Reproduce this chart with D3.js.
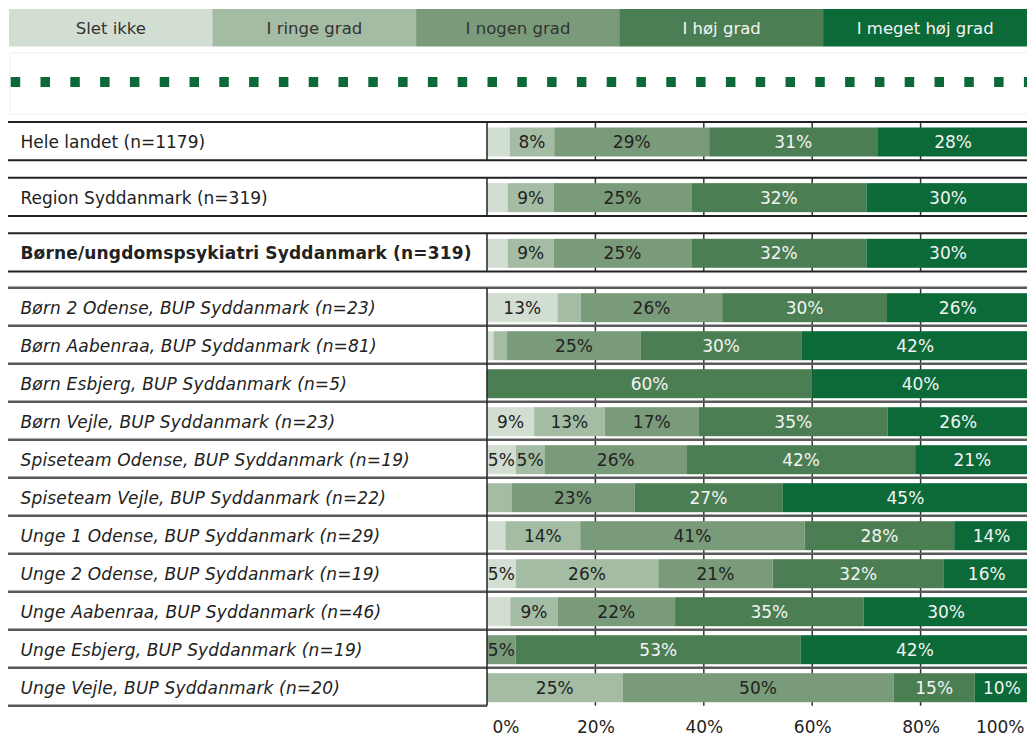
<!DOCTYPE html>
<html>
<head>
<meta charset="utf-8">
<script src="https://cdn.jsdelivr.net/npm/d3@7"></script>
<style>
  body { margin: 0; background: #fff; }
  text { font-family: "DejaVu Sans", Verdana, sans-serif; }
</style>
</head>
<body>
<div id="chart"></div>
<script>
// Answer categories (legend order)
var categories = ["Slet ikke", "I ringe grad", "I nogen grad", "I høj grad", "I meget høj grad"];

// Row labels
var rowLabels = [
  "Hele landet (n=1179)",
  "Region Syddanmark (n=319)",
  "Børne/ungdomspsykiatri Syddanmark (n=319)",
  "Børn 2 Odense, BUP Syddanmark (n=23)",
  "Børn Aabenraa, BUP Syddanmark (n=81)",
  "Børn Esbjerg, BUP Syddanmark (n=5)",
  "Børn Vejle, BUP Syddanmark (n=23)",
  "Spiseteam Odense, BUP Syddanmark (n=19)",
  "Spiseteam Vejle, BUP Syddanmark (n=22)",
  "Unge 1 Odense, BUP Syddanmark (n=29)",
  "Unge 2 Odense, BUP Syddanmark (n=19)",
  "Unge Aabenraa, BUP Syddanmark (n=46)",
  "Unge Esbjerg, BUP Syddanmark (n=19)",
  "Unge Vejle, BUP Syddanmark (n=20)"
];

// Percentages per category, one value per row
var sletIkke      = [4.2, 3.8, 3.8, 13.0, 1.2, 0, 8.7, 5.3, 0, 3.4, 5.3, 4.3, 0, 0];
var ringeGrad     = [8.2, 8.5, 8.5, 4.3, 2.5, 0, 13.0, 5.3, 4.5, 13.8, 26.3, 8.7, 0, 25];
var nogenGrad     = [28.6, 25.4, 25.4, 26.1, 24.7, 0, 17.4, 26.3, 22.7, 41.4, 21.1, 21.7, 5.3, 50];
var hoejGrad      = [31.0, 32.3, 32.3, 30.4, 29.6, 60, 34.8, 42.1, 27.3, 27.6, 31.6, 34.8, 52.6, 15];
var megetHoejGrad = [28.0, 30.1, 30.1, 26.1, 42.0, 40, 26.1, 21.1, 45.4, 13.8, 15.8, 30.4, 42.1, 10];

// Axis ticks
var tickValues = [0, 20, 40, 60, 80, 100];

var series = [sletIkke, ringeGrad, nogenGrad, hoejGrad, megetHoejGrad];
var colors = ["#d3ded3", "#a3bca3", "#7a9b7a", "#4b7f53", "#0b6a38"];
var textColors = ["#222", "#222", "#222", "#f4f4f4", "#f4f4f4"];

var svgWidth = 1027;
var svgHeight = 736;
var labelLeft = 8;
var barLeft = 487;

var svg = d3.select("#chart")
  .append("svg")
  .attr("width", svgWidth)
  .attr("height", svgHeight);

// Build table for stacking
var table = rowLabels.map(function (label, i) {
  var row = { label: label, index: i };
  categories.forEach(function (c, j) { row[c] = series[j][i]; });
  return row;
});

var stack = d3.stack().keys(categories);
var stacked = stack(table);

// Scales
var x = d3.scaleLinear().domain([0, 100]).range([barLeft, 1029]);
var ySummary = d3.scaleLinear().domain([0, 2]).range([122, 233.3]);
var yUnits = d3.scaleLinear().domain([3, 14]).range([287.7, 705.7]);

function rowTop(i) { return i < 3 ? ySummary(i) : yUnits(i); }
function rowBottom(i) { return i < 3 ? ySummary(i) + 38.3 : yUnits(i + 1); }

// Legend
var legendX = d3.scaleBand().domain(categories).range([9, svgWidth]);
var legend = svg.append("g");
legend.selectAll("rect")
  .data(categories)
  .enter()
  .append("rect")
  .attr("x", d => legendX(d))
  .attr("y", 9)
  .attr("width", legendX.bandwidth() + 0.5)
  .attr("height", 37.5)
  .attr("fill", (d, i) => colors[i]);
legend.selectAll("text")
  .data(categories)
  .enter()
  .append("text")
  .attr("x", d => legendX(d) + legendX.bandwidth() / 2)
  .attr("y", 28)
  .attr("dy", "0.35em")
  .attr("text-anchor", "middle")
  .style("font-size", "16.5px")
  .attr("fill", (d, i) => textColors[i] === "#222" ? "#333" : "#f4f4f4")
  .text(d => d);

// Dotted separator box
svg.append("rect")
  .attr("x", 10)
  .attr("y", 53)
  .attr("width", 1040)
  .attr("height", 61)
  .attr("fill", "none")
  .attr("stroke", "#eeeeee");
svg.append("line")
  .attr("x1", 10.7)
  .attr("x2", svgWidth)
  .attr("y1", 82)
  .attr("y2", 82)
  .attr("stroke", "#0b6a38")
  .attr("stroke-width", 10)
  .attr("stroke-dasharray", "9.5 20.3");

// Gridlines (behind bars)
var grid = svg.append("g");
rowLabels.forEach(function (label, i) {
  grid.selectAll(null)
    .data([20, 40, 60, 80])
    .enter()
    .append("line")
    .attr("x1", d => x(d))
    .attr("x2", d => x(d))
    .attr("y1", rowTop(i))
    .attr("y2", rowBottom(i))
    .attr("stroke", "#333")
    .attr("stroke-width", 1.5);
});

// Row lines
var lines = svg.append("g");
[0, 1, 2].forEach(function (i) {
  [rowTop(i), rowBottom(i)].forEach(function (yy) {
    lines.append("line")
      .attr("x1", labelLeft).attr("x2", svgWidth)
      .attr("y1", yy).attr("y2", yy)
      .attr("stroke", "#222").attr("stroke-width", 2);
  });
});
d3.range(3, 14).forEach(function (i) {
  lines.append("line")
    .attr("x1", labelLeft).attr("x2", svgWidth)
    .attr("y1", rowTop(i)).attr("y2", rowTop(i))
    .attr("stroke", "#5a5a5a").attr("stroke-width", 2.5);
});
lines.append("line")
  .attr("x1", labelLeft).attr("x2", barLeft)
  .attr("y1", rowBottom(13)).attr("y2", rowBottom(13))
  .attr("stroke", "#5a5a5a").attr("stroke-width", 2.5);

// Bars
var layers = svg.selectAll("g.layer")
  .data(stacked)
  .enter()
  .append("g")
  .attr("class", "layer")
  .attr("fill", (d, i) => colors[i]);

layers.selectAll("rect")
  .data(d => d)
  .enter()
  .append("rect")
  .attr("x", d => x(d[0]))
  .attr("y", d => rowTop(d.data.index) + 5.5)
  .attr("width", d => Math.max(0, x(d[1]) - x(d[0])))
  .attr("height", 29);

// Bar value labels
stacked.forEach(function (layer, j) {
  svg.append("g")
    .selectAll("text")
    .data(layer.filter(d => d[1] - d[0] >= 5))
    .enter()
    .append("text")
    .attr("x", d => x((d[0] + d[1]) / 2))
    .attr("y", d => rowTop(d.data.index) + 20)
    .attr("dy", "0.35em")
    .attr("text-anchor", "middle")
    .attr("fill", textColors[j])
    .style("font-size", "17px")
    .text(d => Math.round(d[1] - d[0]) + "%");
});

// Left border of bar area
rowLabels.forEach(function (label, i) {
  svg.append("line")
    .attr("x1", barLeft).attr("x2", barLeft)
    .attr("y1", rowTop(i)).attr("y2", rowBottom(i))
    .attr("stroke", "#222").attr("stroke-width", 1.5);
});

// Row labels
svg.append("g")
  .selectAll("text")
  .data(rowLabels)
  .enter()
  .append("text")
  .attr("x", 20.5)
  .attr("y", (d, i) => rowTop(i) + 20)
  .attr("dy", "0.35em")
  .attr("fill", "#222")
  .style("font-size", "17px")
  .style("font-weight", (d, i) => i === 2 ? "bold" : "normal")
  .style("font-style", (d, i) => i >= 3 ? "italic" : "normal")
  .style("letter-spacing", (d, i) => i >= 2 ? "0.16px" : "0px")
  .text(d => d);

// Bottom axis
var bottomAxis = d3.axisBottom(x)
  .tickValues(tickValues)
  .tickFormat(d => d + "%")
  .tickSize(0)
  .tickPadding(16);

var axisG = svg.append("g")
  .attr("transform", "translate(0, 705)")
  .call(bottomAxis);
axisG.select(".domain").remove();
axisG.selectAll("text")
  .style("font-size", "17px")
  .style("font-family", "'DejaVu Sans', Verdana, sans-serif")
  .attr("fill", "#222")
  .attr("text-anchor", (d, i) => i === 0 ? "start" : (i === tickValues.length - 1 ? "end" : "middle"))
  .attr("x", (d, i) => i === 0 ? 5 : (i === tickValues.length - 1 ? -5 : 0));
</script>
</body>
</html>
